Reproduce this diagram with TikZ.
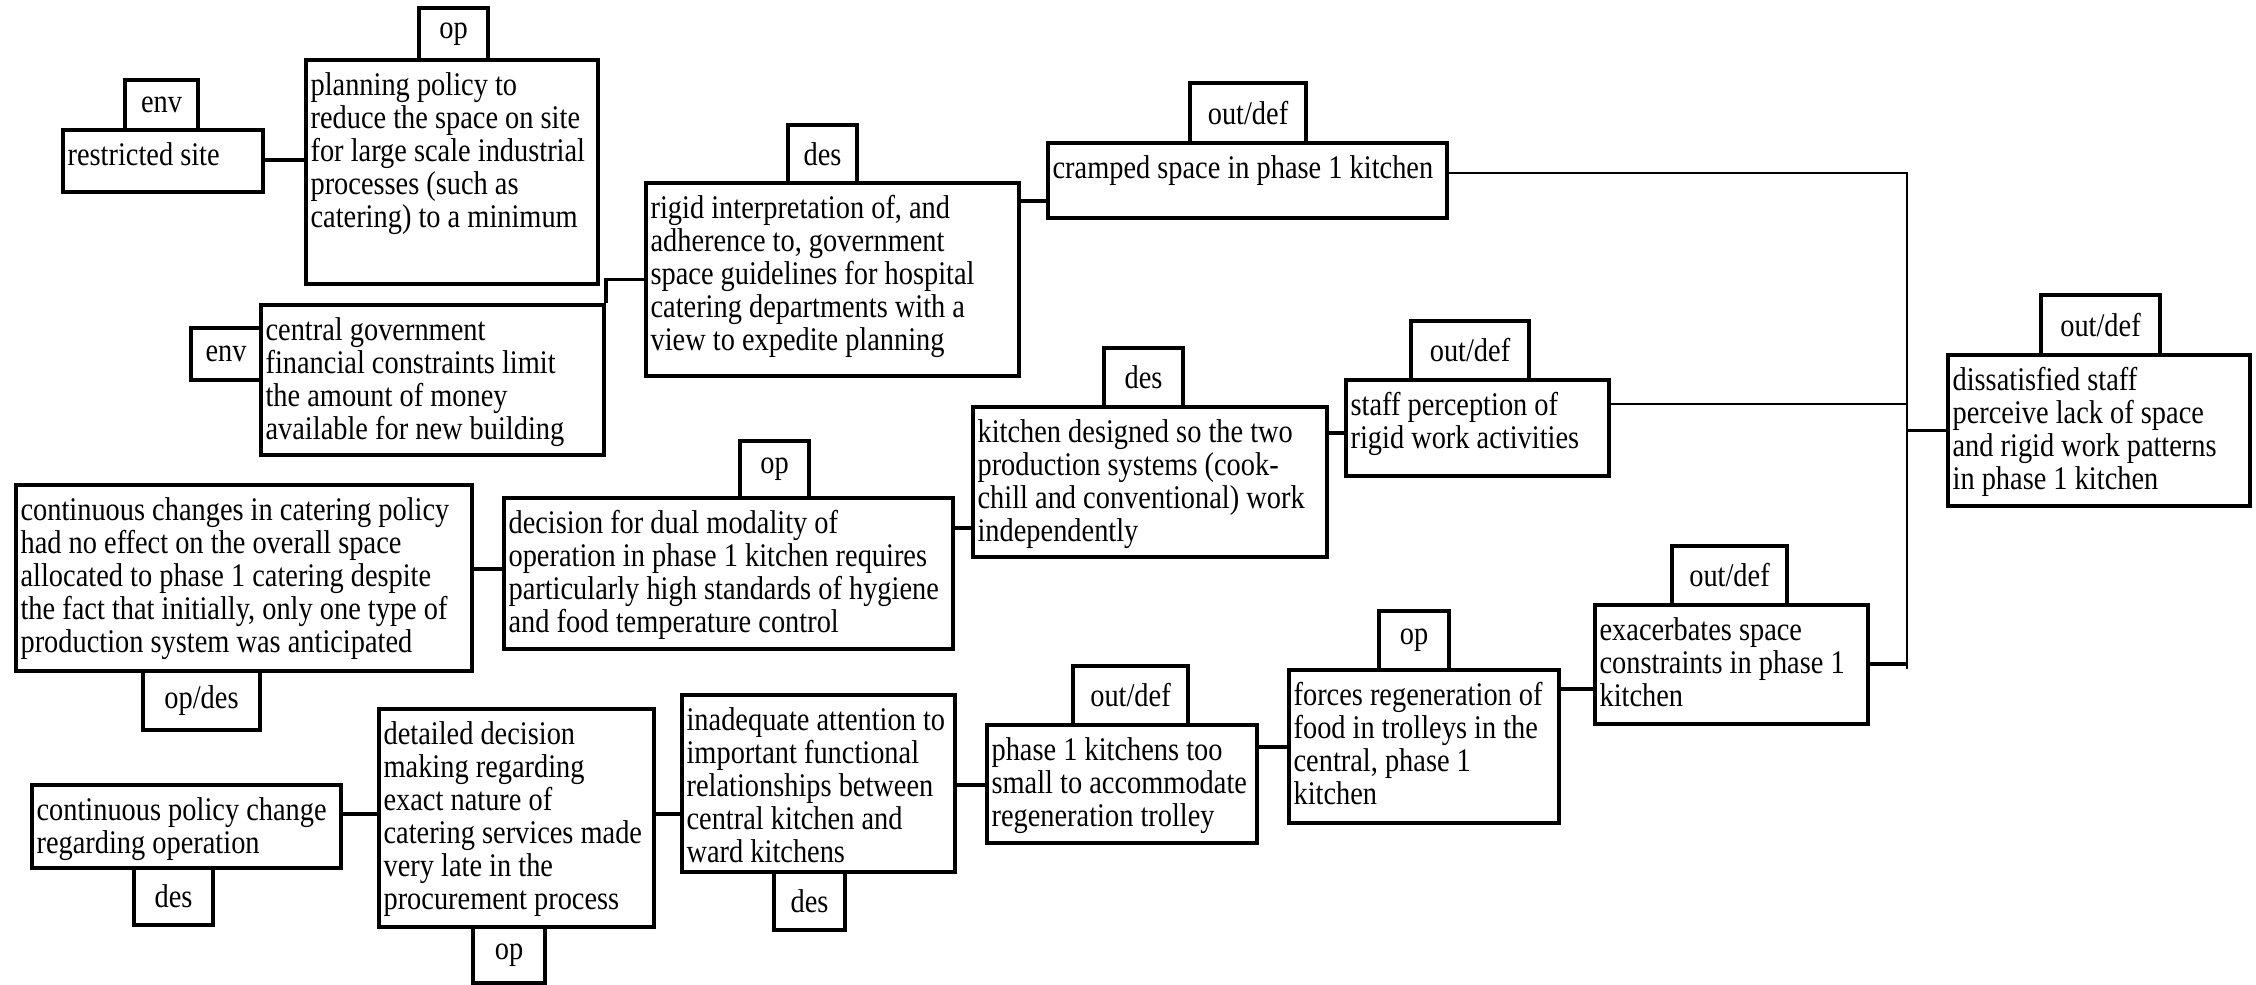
\documentclass[tikz,border=0pt]{standalone}
\usepackage{fontspec}
\setmainfont{Liberation Serif}[FakeStretch=0.86]
\usetikzlibrary{fit,calc}

% boxes are given by their corners in pixel units (y grows downwards)
\tikzset{
  boxst/.style={draw, line width=1.8pt, inner sep=0pt, rectangle},
  txt/.style={anchor=north west, inner sep=0pt, align=left,
    font=\fontsize{16.5}{16.5}\selectfont},
  lbl/.style={inner sep=0pt, font=\fontsize{16.5}{16.5}\selectfont},
  conn/.style={line width=1.8pt},
  bus/.style={line width=1.3pt}
}
% text box: name, x1, y1, x2, y2, text
\newcommand\cbox[6]{%
  \node[boxst, fit={(#2,#3) (#4,#5)}] (#1) {};
  \node[txt] (#1-t) at ($(#1.north west)+(6,14)$) {#6};}
% category tag: name, x1, y1, x2, y2, tag
\newcommand\tagbox[6]{%
  \node[boxst, fit={(#2,#3) (#4,#5)}] (#1) {};
  \node[lbl] (#1-t) at (#1.center) {#6};}

\begin{document}
\begin{tikzpicture}[x=0.5pt, y=-0.5pt]
\useasboundingbox (0,0) rectangle (2256,985);

% upper chain
\cbox{restricted}{63}{130}{263}{192}{restricted site}
\tagbox{restrictedT}{125}{80}{198}{130}{env}
\cbox{planning}{306}{60}{598}{284}{planning policy to\\reduce the space on site\\for large scale industrial\\processes (such as\\catering) to a minimum}
\tagbox{planningT}{419}{8}{488}{60}{op}
\cbox{central}{261}{305}{604}{455}{central government\\financial constraints limit\\the amount of money\\available for new building}
\tagbox{centralT}{191}{328}{261}{380}{env}
\cbox{rigid}{646}{183}{1019}{376}{rigid interpretation of, and\\adherence to, government\\space guidelines for hospital\\catering departments with a\\view to expedite planning}
\tagbox{rigidT}{788}{125}{857}{183}{des}
\cbox{cramped}{1048}{143}{1447}{218}{cramped space in phase 1 kitchen}
\tagbox{crampedT}{1190}{83}{1306}{143}{out/def}

% middle chain
\cbox{kitchen}{973}{407}{1327}{557}{kitchen designed so the two\\production systems (cook-\\chill and conventional) work\\independently}
\tagbox{kitchenT}{1104}{348}{1183}{407}{des}
\cbox{staff}{1346}{380}{1609}{476}{staff perception of\\rigid work activities}
\tagbox{staffT}{1411}{321}{1529}{380}{out/def}
\cbox{dissat}{1948}{355}{2250}{506}{dissatisfied staff\\perceive lack of space\\and rigid work patterns\\in phase 1 kitchen}
\tagbox{dissatT}{2041}{295}{2160}{355}{out/def}
\cbox{changes}{16}{485}{472}{671}{continuous changes in catering policy\\had no effect on the overall space\\allocated to phase 1 catering despite\\the fact that initially, only one type of\\production system was anticipated}
\tagbox{changesT}{143}{671}{260}{730}{op/des}
\cbox{decision}{504}{498}{953}{649}{decision for dual modality of\\operation in phase 1 kitchen requires\\particularly high standards of hygiene\\and food temperature control}
\tagbox{decisionT}{740}{441}{809}{498}{op}

% lower chain
\cbox{policy}{32}{785}{341}{868}{continuous policy change\\regarding operation}
\tagbox{policyT}{134}{868}{213}{925}{des}
\cbox{detailed}{379}{709}{654}{927}{detailed decision\\making regarding\\exact nature of\\catering services made\\very late in the\\procurement process}
\tagbox{detailedT}{473}{927}{545}{983}{op}
\cbox{inadequate}{682}{695}{955}{872}{inadequate attention to\\important functional\\relationships between\\central kitchen and\\ward kitchens}
\tagbox{inadequateT}{774}{872}{845}{930}{des}
\cbox{small}{987}{725}{1257}{843}{phase 1 kitchens too\\small to accommodate\\regeneration trolley}
\tagbox{smallT}{1073}{666}{1188}{725}{out/def}
\cbox{forces}{1289}{670}{1559}{823}{forces regeneration of\\food in trolleys in the\\central, phase 1\\kitchen}
\tagbox{forcesT}{1379}{611}{1449}{670}{op}
\cbox{exac}{1595}{605}{1868}{724}{exacerbates space\\constraints in phase 1\\kitchen}
\tagbox{exacT}{1672}{546}{1787}{605}{out/def}

% connectors
\coordinate (busend) at (1907,669);
\draw[conn] (restricted.east |- 0,160) -- (planning.west |- 0,160);
\draw[conn] (central.north east) |- (rigid.west);
\draw[conn] (rigid.east |- 0,201) -- (cramped.west |- 0,201);
\draw[bus] (cramped.east |- 0,173) -| (busend);
\draw[bus] (staff.east |- 0,404) -- (busend |- 0,404);
\draw[conn] (busend |- dissat.west) -- (dissat.west);
\draw[conn] (exac.east |- 0,664) -- (busend |- 0,664);
\draw[conn] (kitchen.east |- 0,433) -- (staff.west |- 0,433);
\draw[conn] (decision.east |- 0,528) -- (kitchen.west |- 0,528);
\draw[conn] (changes.east |- 0,569) -- (decision.west |- 0,569);
\draw[conn] (policy.east |- 0,814) -- (detailed.west |- 0,814);
\draw[conn] (detailed.east |- 0,814) -- (inadequate.west |- 0,814);
\draw[conn] (inadequate.east |- 0,785) -- (small.west |- 0,785);
\draw[conn] (small.east |- 0,747) -- (forces.west |- 0,747);
\draw[conn] (forces.east |- 0,689) -- (exac.west |- 0,689);
\end{tikzpicture}
\end{document}
